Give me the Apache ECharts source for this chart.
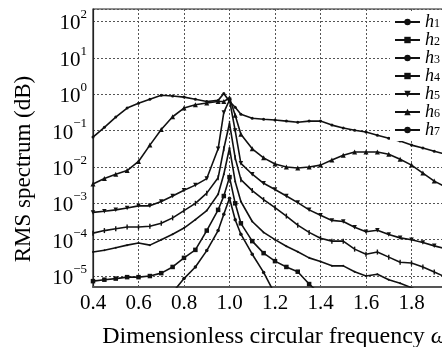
<!DOCTYPE html>
<html>
<head>
<meta charset="utf-8">
<script src="https://cdn.jsdelivr.net/npm/echarts@6/dist/echarts.min.js"></script>
<style>
  html, body { margin: 0; padding: 0; background: #fff; overflow: hidden; }
  #chart { width: 460px; height: 347px; }
</style>
</head>
<body>
<div id="chart"></div>
<script>
// dimensionless circular frequency samples, shared by all curves
const freq = [0.4, 0.45, 0.5, 0.55, 0.6, 0.65, 0.7, 0.75, 0.8, 0.85, 0.9, 0.95, 0.975, 1.0, 1.025, 1.05,
  1.1, 1.15, 1.2, 1.25, 1.3, 1.35, 1.4, 1.45, 1.5, 1.55, 1.6, 1.65, 1.7, 1.75, 1.8, 1.85, 1.9, 1.95, 2.0];

// log10 of the RMS spectrum (null = off the plot)
const h1 = [null, null, null, null, null, null, null, -5.45, -5.07, -4.75, -4.3, -3.75, -3.3, -2.86, -3.45, -3.85,
  -4.4, -4.9, -5.5, null, null, null, null, null, null, null, null, null, null, null, null, null, null, null, null];
const h2 = [-5.14, -5.1, -5.07, -5.03, -5.03, -5.0, -4.92, -4.75, -4.5, -4.28, -3.75, -3.18, -2.8, -2.28, -3.0, -3.55,
  -4.04, -4.37, -4.59, -4.75, -4.88, -5.22, -5.5, null, null, null, null, null, null, null, null, null, null, null, null];
const h3 = [-4.34, -4.29, -4.22, -4.15, -4.09, -4.15, -4.0, -3.85, -3.68, -3.45, -3.2, -2.75, -2.2, -1.48, -2.4, -2.95,
  -3.5, -3.8, -4.0, -4.18, -4.33, -4.5, -4.6, -4.72, -4.72, -4.88, -5.0, -4.95, -5.1, -5.2, -5.32, -5.45, null, null, null];
const h4 = [-3.82, -3.75, -3.7, -3.65, -3.65, -3.63, -3.55, -3.4, -3.2, -3.0, -2.72, -2.3, -1.5, -0.8, -1.75, -2.35,
  -2.65, -2.9, -3.12, -3.35, -3.6, -3.8, -3.96, -4.04, -4.04, -4.26, -4.4, -4.34, -4.48, -4.62, -4.64, -4.75, -4.89, -5.03, -5.14];
const h5 = [-3.25, -3.22, -3.18, -3.13, -3.07, -3.07, -2.95, -2.8, -2.64, -2.5, -2.32, -1.5, -0.5, -0.16, -1.0, -1.9,
  -2.2, -2.45, -2.62, -2.8, -2.98, -3.18, -3.33, -3.47, -3.5, -3.66, -3.78, -3.74, -3.86, -3.95, -4.0, -4.08, -4.17, -4.25, -4.33];
const h6 = [-2.47, -2.32, -2.2, -2.1, -1.85, -1.4, -0.97, -0.62, -0.38, -0.29, -0.24, -0.2, -0.2, -0.1, -0.58, -1.1,
  -1.5, -1.75, -1.92, -2.0, -2.03, -2.0, -1.95, -1.81, -1.68, -1.59, -1.59, -1.59, -1.65, -1.79, -1.95, -2.17, -2.39, -2.55, -2.72];
const h7 = [-1.18, -0.91, -0.63, -0.38, -0.25, -0.14, -0.03, -0.05, -0.08, -0.14, -0.2, -0.17, 0.02, -0.2, -0.36, -0.55,
  -0.66, -0.69, -0.71, -0.74, -0.77, -0.74, -0.74, -0.85, -0.93, -0.99, -1.04, -1.13, -1.21, -1.29, -1.4, -1.48, -1.57, -1.65, -1.73];

const seriesNames = ["h1", "h2", "h3", "h4", "h5", "h6", "h7"];
const seriesExp = [h1, h2, h3, h4, h5, h6, h7];
const markers = [
  { symbol: "circle", size: 3.5 },
  { symbol: "rect", size: 4.5 },
  { symbol: "circle", size: 2 },
  { symbol: "rect", size: [1.4, 5] },
  { symbol: "triangle", size: 4.5, rotate: 180 },
  { symbol: "triangle", size: 5, rotate: 0 },
  { symbol: "circle", size: 3 },
];

const serif = "'Liberation Serif', 'Times New Roman', 'DejaVu Serif', serif";
const ink = "#111";

const chart = echarts.init(document.getElementById("chart"));

const toPoints = (exp) => freq.map((f, i) => [f, exp[i] == null ? null : Math.pow(10, exp[i])]);

const option = {
  animation: false,
  backgroundColor: "#fff",
  grid: {
    left: 93, right: 3, top: 9, bottom: 60,
    show: true, borderColor: "#222", borderWidth: 1.2,
    containLabel: false, outerBoundsMode: "none",
  },
  legend: {
    orient: "vertical",
    left: 390, top: 11,
    backgroundColor: "#fff",
    padding: [2, 4, 2, 4],
    itemWidth: 25, itemHeight: 8, itemGap: 0,
    data: seriesNames,
    formatter: (name) => "{i|h}{n|" + name.slice(1) + "}",
    textStyle: {
      color: "#000",
      lineHeight: 16,
      rich: {
        i: { fontFamily: serif, fontStyle: "italic", fontSize: 18, lineHeight: 16, color: "#000" },
        n: { fontFamily: serif, fontSize: 12, lineHeight: 16, verticalAlign: "bottom", color: "#000" },
      },
    },
  },
  xAxis: {
    type: "value",
    min: 0.4, max: 2.0, interval: 0.2,
    name: "Dimensionless circular frequency {w|ω}",
    nameLocation: "middle", nameGap: 38, nameMoveOverlap: false,
    nameTextStyle: {
      fontFamily: serif, fontSize: 24, color: "#000",
      rich: { w: { fontFamily: serif, fontStyle: "italic", fontSize: 24, color: "#000" } },
    },
    axisLine: { show: true, onZero: false, lineStyle: { color: "#555", width: 2 } },
    axisTick: { show: false },
    axisLabel: {
      margin: 6, fontFamily: serif, fontSize: 21, color: "#000",
      showMaxLabel: false,
      formatter: (v) => v.toFixed(1),
    },
    splitLine: { show: true, lineStyle: { color: "#555", type: [2, 2], width: 1 } },
  },
  yAxis: {
    type: "log", logBase: 10,
    min: 5e-6, max: 220,
    name: "RMS spectrum (dB)",
    nameLocation: "middle", nameGap: 58, nameRotate: 90, nameMoveOverlap: false,
    nameTextStyle: { fontFamily: serif, fontSize: 23, color: "#000", padding: [0, 42, 0, 0] },
    axisLine: { show: true, lineStyle: { color: "#222", width: 1.2 } },
    axisTick: { show: false },
    axisLabel: {
      margin: 6, color: "#000",
      showMinLabel: false, showMaxLabel: false,
      formatter: (v) => {
        const e = Math.round(Math.log10(v));
        return "{b|10}{s|" + (e < 0 ? "\u2212" + (-e) : e) + "}";
      },
      rich: {
        b: { fontFamily: serif, fontSize: 21, lineHeight: 26, verticalAlign: "bottom", color: "#000" },
        s: { fontFamily: serif, fontSize: 13, lineHeight: 26, verticalAlign: "top", color: "#000" },
      },
    },
    splitLine: { show: true, lineStyle: { color: "#555", type: [2, 2], width: 1 } },
  },
  series: seriesNames.map((name, k) => ({
    name,
    type: "line",
    data: toPoints(seriesExp[k]),
    clip: true,
    connectNulls: false,
    symbol: markers[k].symbol,
    symbolSize: markers[k].size,
    symbolRotate: markers[k].rotate || 0,
    showAllSymbol: true,
    lineStyle: { color: ink, width: 1.6 },
    itemStyle: { color: ink },
    emphasis: { disabled: true },
  })),
};

chart.setOption(option);
</script>
</body>
</html>
